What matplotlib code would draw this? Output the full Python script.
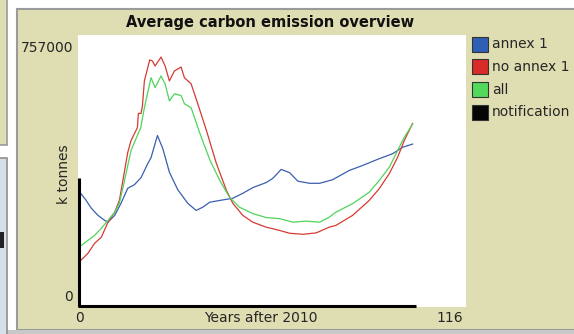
import numpy as np
import matplotlib
matplotlib.use("Agg")
import matplotlib.pyplot as plt
from matplotlib.patches import Rectangle

W, H = 574, 334

# ---- data (k tonnes, years after 2010)
years_annex = [0, 2, 3.7, 5.7, 7.7, 8.7, 10.7, 12.6, 14.6, 16.6, 18.6, 20.6, 21.6,
               23.5, 25.1, 27.1, 29.6, 32.6, 35.1, 37.1, 39.2, 42.2, 46.1, 49.1,
               52.1, 56.1, 58.1, 60.6, 63.1, 65.6, 69.1, 72.1, 76, 81, 85, 90, 94,
               97, 100]
annex = [322, 298, 274, 254, 240, 235, 254, 288, 330, 340, 360, 399, 416,
         478, 442, 375, 326, 288, 268, 277, 291, 296, 302, 316,
         332, 346, 358, 383, 374, 350, 344, 344, 354, 380, 394, 413, 427,
         445, 454]

years_no_annex = [0, 2.7, 4.7, 6.7, 8.7, 10.7, 12.1, 13.3, 14.6, 15.6, 17.5, 17.8,
                  18.6, 19.0, 19.6, 21.2, 22.0, 22.8, 24.6, 25.8, 27.1, 28.6, 30.6,
                  31.6, 33.6, 35.6, 38.2, 41.2, 44.2, 46.1, 49.1, 52.1, 56.1, 60.1,
                  63.1, 67.1, 71.1, 75, 77, 82, 87, 90, 93, 95.5, 97.5, 100]
no_annex = [123, 148, 176, 193, 235, 263, 296, 360, 430, 464, 500, 540,
            540, 560, 631, 690, 687, 673, 698, 673, 631, 659, 670,
            640, 623, 567, 492, 399, 324, 288, 254, 235, 221, 212,
            204, 201, 205, 221, 226, 254, 296, 329, 371, 417, 464, 512]

years_all = [0, 2.7, 4.7, 6.7, 8.7, 10.7, 12.1, 13.6, 15.6, 18.5, 19.6, 21.6,
             22.8, 24.6, 25.8, 27.1, 28.6, 30.6, 31.6, 33.6, 36.2, 39.2, 42.2,
             45.1, 48.1, 52.1, 56.1, 60.1, 64.1, 68.1, 72.1, 75, 77, 82, 87, 90,
             93, 95.5, 97.5, 100]
all_countries = [165, 184, 198, 218, 240, 263, 288, 350, 436, 500, 556, 640,
                 612, 645, 623, 575, 595, 590, 567, 556, 485, 410, 352,
                 305, 277, 259, 248, 245, 235, 238, 235, 249, 263, 287, 319, 352,
                 389, 436, 473, 510]

notif_x = [0, 0, 101]
notif_y = [360, 0, 0]

series_names = ["annex 1", "no annex 1", "all", "notification"]
series_colors = ["#3a5fb0", "#d63a34", "#4fd45a", "#000000"]
swatch_colors = ["#2f5fb5", "#d92b28", "#52d95c", "#050505"]

y_max = 757000
x_max = 116

beige = "#dfdeb3"
txt = "#262626"

fig = plt.figure(figsize=(W / 100, H / 100), dpi=100)
fig.patch.set_facecolor("white")


def px(x, y):
    return x / W, 1 - y / H


# background drawn in pixel coordinates
bg = fig.add_axes([0, 0, 1, 1])
bg.set_xlim(0, W)
bg.set_ylim(H, 0)
bg.axis("off")
# main panel
bg.add_patch(Rectangle((17, 9), 560, 321, facecolor=beige, edgecolor="#9a9a9a", lw=1.5))
bg.add_patch(Rectangle((0, 330), W, 4, facecolor="#c8c8c8", edgecolor="none"))
# left UI fragments
bg.add_patch(Rectangle((-2, -2), 9, 147, facecolor=beige, edgecolor="#9a9a9a", lw=1.2))
bg.add_patch(Rectangle((-2, 158), 9, 180, facecolor="#d6e0ea", edgecolor="#8f8f8f", lw=1.2))
bg.add_patch(Rectangle((0, 232), 4, 16, facecolor="#222222", edgecolor="none"))
# white plot canvas
bg.add_patch(Rectangle((78, 35), 388, 272, facecolor="white", edgecolor="none"))

x0, y0 = px(79, 306)
x1, y1 = px(466, 36)
ax = fig.add_axes([x0, y0, x1 - x0, y1 - y0])
ax.set_facecolor("none")
ax.set_xlim(0, x_max)
ax.set_ylim(0, y_max)
ax.axis("off")

ax.plot(years_annex, np.array(annex) * 1000, color=series_colors[0], lw=0.9)
ax.plot(years_no_annex, np.array(no_annex) * 1000, color=series_colors[1], lw=0.9)
ax.plot(years_all, np.array(all_countries) * 1000, color=series_colors[2], lw=0.9)
ax.plot(notif_x, np.array(notif_y) * 1000, color=series_colors[3], lw=2.2,
        clip_on=False, solid_capstyle="butt")

# title and axis texts
fig.text(*px(270, 22), "Average carbon emission overview", ha="center", va="center",
         fontsize=10.5, fontweight="bold", color="#111111")
fig.text(*px(73, 48), "757000", ha="right", va="center", fontsize=10, color=txt)
fig.text(*px(73, 297), "0", ha="right", va="center", fontsize=10, color=txt)
fig.text(*px(80, 318), "0", ha="center", va="center", fontsize=10, color=txt)
fig.text(*px(463, 318), "116", ha="right", va="center", fontsize=10, color=txt)
fig.text(*px(261, 318), "Years after 2010", ha="center", va="center", fontsize=10,
         color=txt)
fig.text(*px(64, 174), "k tonnes", ha="center", va="center", rotation=90, fontsize=10,
         color=txt)

# legend
for i, (name, col) in enumerate(zip(series_names, swatch_colors)):
    yc = 44 + i * 22.8
    bg.add_patch(Rectangle((472, yc - 7.5), 16, 15, facecolor=col, edgecolor="#333333",
                           lw=0.8))
    bg.text(492, yc, name, ha="left", va="center", fontsize=10, color=txt)

fig.savefig("out.png", dpi=100)
